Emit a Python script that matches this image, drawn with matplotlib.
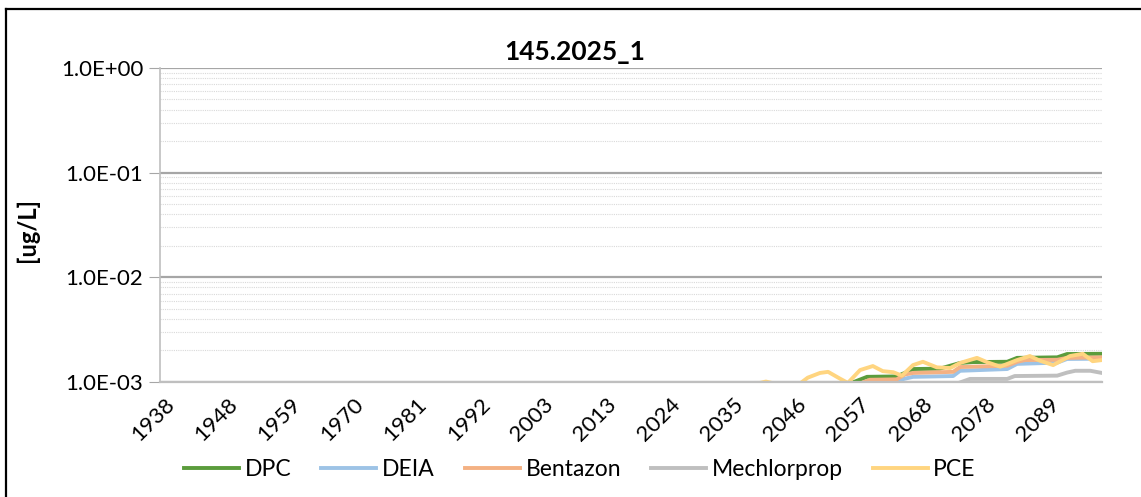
import numpy as np
import matplotlib.pyplot as plt
from matplotlib.lines import Line2D
from matplotlib.ticker import FixedLocator, FuncFormatter

# Datos (año decimal, valor en ug/L)
dpc_x = [1938, 2056.3, 2059.6, 2064.7, 2066.5, 2067.5, 2072.1, 2075.6, 2077.8,
         2083.7, 2085.4, 2092.3, 2094.0, 2100]
dpc_y = [0.0009, 0.00095, 0.00112, 0.00113, 0.00125, 0.00133, 0.00134, 0.00152,
         0.00155, 0.00156, 0.00170, 0.00172, 0.00185, 0.00186]

deia_x = [1938, 2063.5, 2065.3, 2067.5, 2074.4, 2075.6, 2083.7, 2085.4, 2092.3,
          2094.0, 2100]
deia_y = [0.0009, 0.00095, 0.00105, 0.00112, 0.00114, 0.00128, 0.00133, 0.00149,
          0.00153, 0.00166, 0.00167]

bentazon_x = [1938, 2058.0, 2060.1, 2064.7, 2066.1, 2067.5, 2074.4, 2075.6,
              2083.7, 2085.4, 2086.8, 2092.3, 2094.0, 2100]
bentazon_y = [0.0009, 0.00095, 0.00105, 0.00106, 0.00118, 0.00122, 0.00125,
              0.00139, 0.00143, 0.00156, 0.00162, 0.00163, 0.00170, 0.00172]

mechlorprop_x = [1938, 2074.7, 2077.3, 2083.7, 2085.0, 2092.3, 2094.0, 2095.4,
                 2098.0, 2100]
mechlorprop_y = [0.0009, 0.00095, 0.00107, 0.00107, 0.00114, 0.00115, 0.00123,
                 0.00128, 0.00128, 0.00122]

pce_x = [1938, 2041.2, 2042.2, 2043.2, 2048.1, 2049.4, 2051.5, 2052.9, 2054.9,
         2056.3, 2058.4, 2060.6, 2062.3, 2064.1, 2065.6, 2067.5, 2069.2, 2071.6,
         2073.9, 2075.6, 2078.5, 2080.2, 2082.5, 2085.4, 2087.6, 2089.3, 2091.6,
         2094.5, 2096.7, 2098.4, 2100]
pce_y = [0.0009, 0.00098, 0.00101, 0.00098, 0.00097, 0.00110, 0.00122, 0.00125,
         0.00108, 0.00098, 0.00130, 0.00142, 0.00127, 0.00124, 0.00115, 0.00145,
         0.00156, 0.00138, 0.00136, 0.00152, 0.00170, 0.00155, 0.00140, 0.00162,
         0.00177, 0.00160, 0.00145, 0.00177, 0.00186, 0.00158, 0.00162]

year_labels = [1938, 1948, 1959, 1970, 1981, 1992, 2003, 2013, 2024, 2035,
               2046, 2057, 2068, 2078, 2089]

series = [
    ("DPC", dpc_x, dpc_y, "#5b9c3c"),
    ("DEIA", deia_x, deia_y, "#9dc3e6"),
    ("Bentazon", bentazon_x, bentazon_y, "#f4b183"),
    ("Mechlorprop", mechlorprop_x, mechlorprop_y, "#bfbfbf"),
    ("PCE", pce_x, pce_y, "#ffd580"),
]

plt.rcParams['font.family'] = ['Lato', 'DejaVu Sans']

fig = plt.figure(figsize=(11.41, 4.97), dpi=100)
ax = fig.add_axes([0.1402, 0.2314, 0.8256, 0.6318])

for name, xs, ys, col in series:
    ax.plot(xs, ys, color=col, lw=2.8, label=name, solid_joinstyle='round')

ax.set_yscale('log')
ax.set_ylim(1e-3, 1)
ax.set_xlim(1938, 2100)

# Rejilla
ax.yaxis.set_major_locator(FixedLocator([1e-3, 1e-2, 1e-1, 1]))
ax.yaxis.set_minor_locator(FixedLocator(
    [m * 10.0 ** e for e in (-3, -2, -1) for m in range(2, 10)]))
ax.yaxis.set_major_formatter(FuncFormatter(lambda v, p: f"{v:.1E}"))
ax.grid(True, which='major', axis='y', color='#a6a6a6', lw=1.6)
ax.grid(True, which='minor', axis='y', color='#d9d9d9', lw=0.8, ls=(0, (1, 1)))
ax.set_axisbelow(True)

tick_pos = 1938.7 + 10.87 * np.arange(len(year_labels))
ax.set_xticks(tick_pos)
ax.set_xticklabels([str(y) for y in year_labels], rotation=45, ha='right',
                   rotation_mode='anchor', fontsize=16)
ax.tick_params(axis='x', length=0, pad=9)
ax.tick_params(axis='y', which='major', length=8, color='#a6a6a6', labelsize=16,
               pad=4)
ax.tick_params(axis='y', which='minor', length=0)

for s in ('top', 'right'):
    ax.spines[s].set_visible(False)
ax.spines['left'].set_color('#bfbfbf')
ax.spines['bottom'].set_color('#bfbfbf')
ax.spines['left'].set_linewidth(1.2)
ax.spines['bottom'].set_linewidth(1.6)

fig.text(27 / 1141, 1 - 230 / 497, "[ug/L]", rotation=90, fontsize=17,
         fontweight='bold', ha='center', va='center')
fig.text(575 / 1141, 1 - 52 / 497, "145.2025_1", fontsize=19,
         fontweight='bold', ha='center', va='center')

fig.legend(loc='center', bbox_to_anchor=(580 / 1141, 27 / 497), ncol=5,
           frameon=False, fontsize=16.5, handlelength=2.4, columnspacing=1.3,
           handletextpad=0.25, borderpad=0)

# Marco negro (recortado)
fig.add_artist(Line2D([6 / 1141, 6 / 1141], [0, 1 - 9 / 497], color='black',
                      lw=1.6, transform=fig.transFigure))
fig.add_artist(Line2D([6 / 1141, 1], [1 - 9 / 497, 1 - 9 / 497], color='black',
                      lw=1.6, transform=fig.transFigure))

fig.savefig("out.png", dpi=100)
